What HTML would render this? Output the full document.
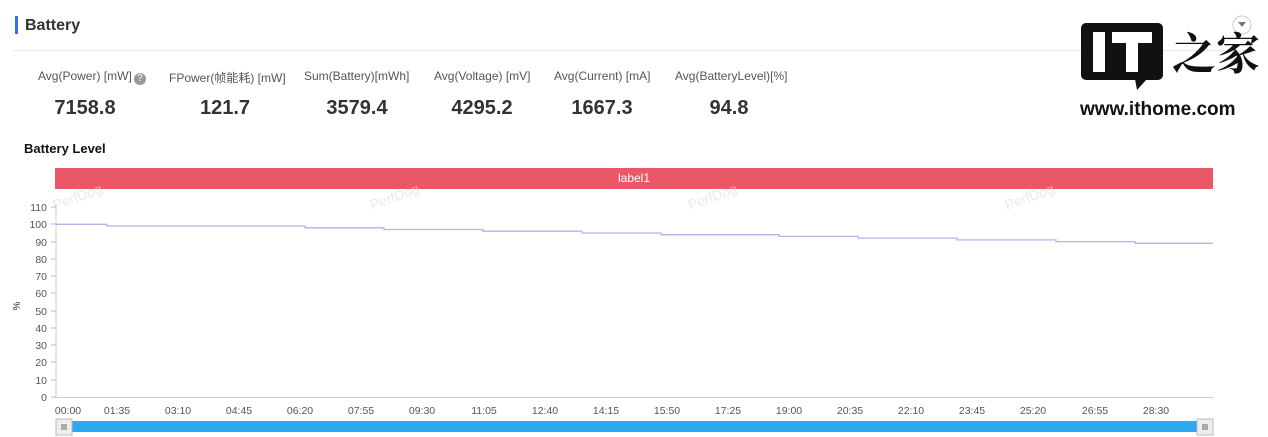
<!DOCTYPE html>
<html><head><meta charset="utf-8"><style>
body{margin:0;width:1268px;height:437px;background:#fff;font-family:"Liberation Sans","Noto Sans CJK SC",sans-serif;position:relative;overflow:hidden;color:#333}
.a{position:absolute;white-space:nowrap}
.lab{font-size:12px;color:#555;top:69px}
.val{font-size:20px;font-weight:bold;color:#333;top:97px;transform:translateX(-50%)}
</style></head><body>
<div class="a" style="left:15px;top:16px;width:3px;height:18px;background:#3b6ee8"></div>
<div class="a" style="left:25px;top:17px;font-size:16px;font-weight:bold;color:#333">Battery</div>
<div class="a" style="left:13px;top:50px;width:1240px;height:1px;background:#e6e9ee"></div>
<div class="a lab" style="left:38px">Avg(Power) [mW]<span style="display:inline-block;width:12px;height:12px;border-radius:6px;background:#999;color:#fff;font-size:10px;text-align:center;line-height:12px;margin-left:2px;vertical-align:-1px">?</span></div>
<div class="a lab" style="left:169px">FPower(帧能耗) [mW]</div>
<div class="a lab" style="left:304px">Sum(Battery)[mWh]</div>
<div class="a lab" style="left:434px">Avg(Voltage) [mV]</div>
<div class="a lab" style="left:554px">Avg(Current) [mA]</div>
<div class="a lab" style="left:675px">Avg(BatteryLevel)[%]</div>
<div class="a val" style="left:85px">7158.8</div>
<div class="a val" style="left:225px">121.7</div>
<div class="a val" style="left:357px">3579.4</div>
<div class="a val" style="left:482px">4295.2</div>
<div class="a val" style="left:602px">1667.3</div>
<div class="a val" style="left:729px">94.8</div>
<div class="a" style="left:24px;top:141px;font-size:13px;font-weight:bold;color:#111">Battery Level</div>
<div class="a" style="left:55px;top:168px;width:1158px;height:21px;background:#ea5766;color:#fff;font-size:12px;text-align:center;line-height:21px">label1</div>
<svg class="a" style="left:0;top:0" width="1268" height="437">
<g font-family="Liberation Sans" font-size="14" fill="#ddd" opacity="0.6">
<text x="55" y="210" transform="rotate(-20 55 210)">PerfDog</text>
<text x="372" y="210" transform="rotate(-20 372 210)">PerfDog</text>
<text x="690" y="210" transform="rotate(-20 690 210)">PerfDog</text>
<text x="1007" y="210" transform="rotate(-20 1007 210)">PerfDog</text>
</g>
<line x1="56" y1="205" x2="56" y2="398" stroke="#ccc"/>
<line x1="56" y1="397.5" x2="1213" y2="397.5" stroke="#ccc"/>
<g font-size="10.5" fill="#555" text-anchor="end" font-family="Liberation Sans">
<text x="47" y="401">0</text><text x="47" y="384">10</text><text x="47" y="366">20</text><text x="47" y="349">30</text><text x="47" y="332">40</text><text x="47" y="315">50</text><text x="47" y="297">60</text><text x="47" y="280">70</text><text x="47" y="263">80</text><text x="47" y="246">90</text><text x="47" y="228">100</text><text x="47" y="211">110</text>
</g>
<g stroke="#bbb">
<line x1="51" y1="397" x2="56" y2="397"/><line x1="51" y1="380" x2="56" y2="380"/><line x1="51" y1="362" x2="56" y2="362"/><line x1="51" y1="345" x2="56" y2="345"/><line x1="51" y1="328" x2="56" y2="328"/><line x1="51" y1="311" x2="56" y2="311"/><line x1="51" y1="293" x2="56" y2="293"/><line x1="51" y1="276" x2="56" y2="276"/><line x1="51" y1="259" x2="56" y2="259"/><line x1="51" y1="242" x2="56" y2="242"/><line x1="51" y1="224" x2="56" y2="224"/><line x1="51" y1="207" x2="56" y2="207"/>
</g>
<text x="20" y="306" font-size="10" fill="#333" transform="rotate(-90 20 306)" text-anchor="middle">%</text>
<g font-size="10.5" fill="#555" font-family="Liberation Sans" text-anchor="middle">
<text x="68" y="414">00:00</text><text x="117" y="414">01:35</text><text x="178" y="414">03:10</text><text x="239" y="414">04:45</text><text x="300" y="414">06:20</text><text x="361" y="414">07:55</text><text x="422" y="414">09:30</text><text x="484" y="414">11:05</text><text x="545" y="414">12:40</text><text x="606" y="414">14:15</text><text x="667" y="414">15:50</text><text x="728" y="414">17:25</text><text x="789" y="414">19:00</text><text x="850" y="414">20:35</text><text x="911" y="414">22:10</text><text x="972" y="414">23:45</text><text x="1033" y="414">25:20</text><text x="1095" y="414">26:55</text><text x="1156" y="414">28:30</text>
</g>
<polyline fill="none" stroke="#b8b0e8" stroke-width="1.3" points="56,224.3 107,224.3 107,226 305,226 305,227.8 384,227.8 384,229.5 483,229.5 483,231.2 582,231.2 582,233 661,233 661,234.7 779,234.7 779,236.4 858,236.4 858,238.1 957,238.1 957,239.9 1056,239.9 1056,241.6 1135,241.6 1135,243.3 1213,243.3"/>
<rect x="62" y="421" width="1148" height="11" fill="#2ea8ee"/>
<rect x="56" y="419" width="16" height="16" fill="#eee" stroke="#bbb"/>
<rect x="1197" y="419" width="16" height="16" fill="#eee" stroke="#bbb"/>
<g stroke="#666"><line x1="62" y1="424" x2="62" y2="430"/><line x1="64" y1="424" x2="64" y2="430"/><line x1="66" y1="424" x2="66" y2="430"/><line x1="1203" y1="424" x2="1203" y2="430"/><line x1="1205" y1="424" x2="1205" y2="430"/><line x1="1207" y1="424" x2="1207" y2="430"/></g>
<rect x="1081" y="23" width="82" height="57" rx="5" fill="#111"/>
<polygon points="1135,79 1147,79 1137,90" fill="#111"/>
<rect x="1093" y="32" width="12" height="40" fill="#fff"/>
<rect x="1112" y="32" width="40" height="11" fill="#fff"/>
<rect x="1126" y="32" width="12" height="40" fill="#fff"/>
<circle cx="1242" cy="25" r="9" fill="none" stroke="#ccc"/>
<polygon points="1238,22 1246,22 1242,27" fill="#777"/>
</svg>
<div class="a" style="left:1172px;top:20px;font-size:44px;font-weight:bold;color:#111;font-family:'Noto Serif CJK SC',serif;line-height:60px">之家</div>
<div class="a" style="left:1080px;top:99px;font-size:19px;font-weight:bold;color:#111">www.ithome.com</div>
</body></html>
